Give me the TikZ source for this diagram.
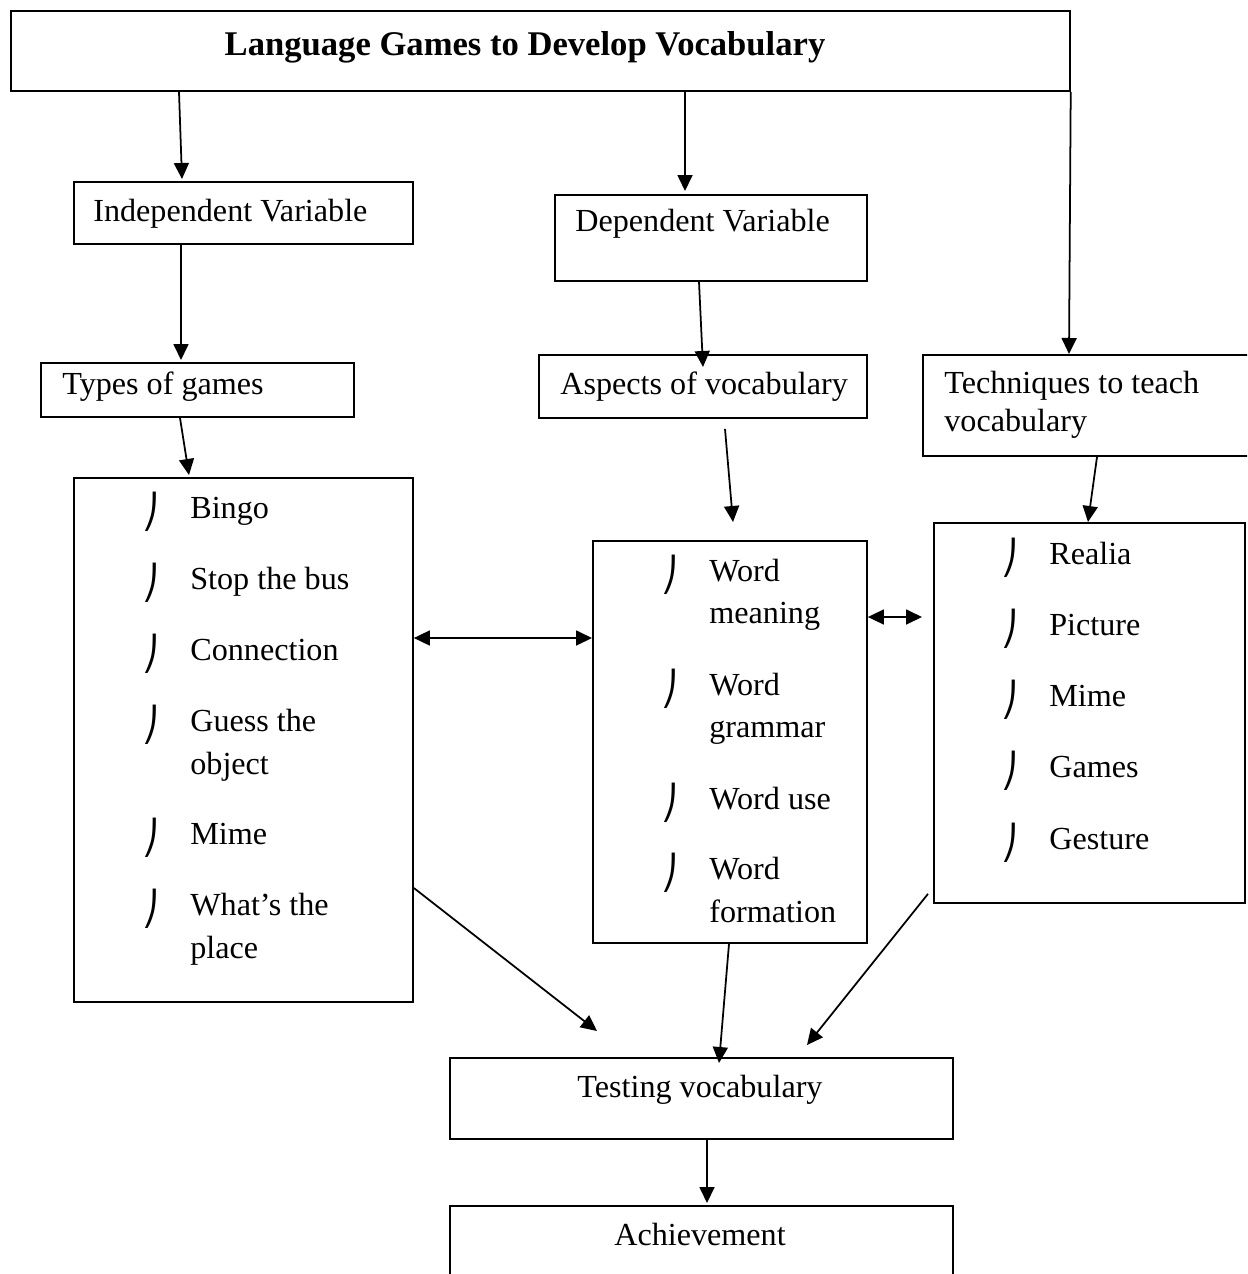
\documentclass[tikz,border=0pt]{standalone}
\usepackage{fontspec}
\setmainfont{Liberation Serif}
\newfontfamily\bulletfont{DejaVu Sans}
\usetikzlibrary{arrows.meta}

\tikzset{
  box/.style={draw, line width=1.1pt, anchor=north west, inner sep=0pt},
  lbl/.style={anchor=base west, inner sep=0pt, font=\fontsize{18.3}{24.4}\selectfont},
  bul/.style={anchor=base west, inner sep=0pt, font=\bulletfont\fontsize{19}{19}\selectfont},
  arr/.style={line width=1pt, -{Triangle[length=0.32cm, width=0.3cm]}},
  darr/.style={line width=1pt, {Triangle[length=0.32cm, width=0.3cm]}-{Triangle[length=0.32cm, width=0.3cm]}},
}

\begin{document}
\begin{tikzpicture}[x=0.02cm, y=-0.02cm]
  \useasboundingbox (0,0) rectangle (1247,1274);
  \clip (0,0) rectangle (1247,1274);

  % title
  \node[box, minimum width=21.18cm, minimum height=1.6cm] (title) at (10,10) {};
  \node[anchor=base, inner sep=0pt, font=\bfseries\fontsize{19.7}{24}\selectfont] (titletext) at (525,56) {Language Games to Develop Vocabulary};

  % variables
  \node[box, minimum width=6.78cm, minimum height=1.24cm] (indep) at (73,181) {};
  \node[lbl] (indeptext) at (93,221) {Independent Variable};
  \node[box, minimum width=6.24cm, minimum height=1.72cm] (dep) at (554,194) {};
  \node[lbl] (deptext) at (575,231) {Dependent Variable};

  % second row
  \node[box, minimum width=6.26cm, minimum height=1.08cm] (types) at (40,362) {};
  \node[lbl] (typestext) at (62,394) {Types of games};
  \node[box, minimum width=6.56cm, minimum height=1.26cm] (aspects) at (538,354) {};
  \node[lbl] (aspectstext) at (560,394) {Aspects of vocabulary};
  \node[box, minimum width=6.8cm, minimum height=2.02cm] (tech) at (922,354) {};
  \node[lbl] (techtext) at (944,393) {Techniques to teach};
  \node[lbl] (techtext2) at (944,431) {vocabulary};

  % lists
  \node[box, minimum width=6.78cm, minimum height=10.48cm] (games) at (73,477) {};
  \foreach \y in {518,589,660,731,844,915}
    \node[bul] (gb\y) at (142,\y+5) {⎠};
  \node[lbl] (g1) at (190,518) {Bingo};
  \node[lbl] (g2) at (190,589) {Stop the bus};
  \node[lbl] (g3) at (190,660) {Connection};
  \node[lbl] (g4) at (190,731) {Guess the};
  \node[lbl] (g4b) at (190,774) {object};
  \node[lbl] (g5) at (190,844) {Mime};
  \node[lbl] (g6) at (190,915) {What’s the};
  \node[lbl] (g6b) at (190,958) {place};

  \node[box, minimum width=5.48cm, minimum height=8.04cm] (asplist) at (592,540) {};
  \foreach \y in {581,695,809,879}
    \node[bul] (ab\y) at (661,\y+5) {⎠};
  \node[lbl] (a1) at (709,581) {Word};
  \node[lbl] (a1b) at (709,623) {meaning};
  \node[lbl] (a2) at (709,695) {Word};
  \node[lbl] (a2b) at (709,737) {grammar};
  \node[lbl] (a3) at (709,809) {Word use};
  \node[lbl] (a4) at (709,879) {Word};
  \node[lbl] (a4b) at (709,922) {formation};

  \node[box, minimum width=6.22cm, minimum height=7.6cm] (techlist) at (933,522) {};
  \foreach \y in {564,635,706,777,849}
    \node[bul] (tb\y) at (1001,\y+5) {⎠};
  \node[lbl] (t1) at (1049,564) {Realia};
  \node[lbl] (t2) at (1049,635) {Picture};
  \node[lbl] (t3) at (1049,706) {Mime};
  \node[lbl] (t4) at (1049,777) {Games};
  \node[lbl] (t5) at (1049,849) {Gesture};

  % bottom
  \node[box, minimum width=10.06cm, minimum height=1.62cm] (testing) at (449,1057) {};
  \node[lbl, anchor=base] (testingtext) at (700,1097) {Testing vocabulary};
  \node[box, minimum width=10.06cm, minimum height=2cm] (achieve) at (449,1205) {};
  \node[lbl, anchor=base] (achievetext) at (700,1245) {Achievement};

  % arrows
  \draw[arr] ([shift={(169,0)}]title.south west) -- ([shift={(109,-2)}]indep.north west);
  \draw[arr] ([shift={(675,0)}]title.south west) -- ([shift={(131,-3)}]dep.north west);
  \draw[arr] (title.south east) -- ([shift={(147,0)}]tech.north west);
  \draw[arr] ([shift={(108,0)}]indep.south west) -- ([shift={(141,-2)}]types.north west);
  \draw[arr] ([shift={(145,0)}]dep.south west) -- ([shift={(165,13)}]aspects.north west);
  \draw[arr] ([shift={(140,0)}]types.south west) -- ([shift={(116,-2)}]games.north west);
  \draw[arr] ([shift={(187,10)}]aspects.south west) -- ([shift={(141,-18)}]asplist.north west);
  \draw[arr] ([shift={(175,0)}]tech.south west) -- ([shift={(155,0)}]techlist.north west);
  \draw[darr] ([shift={(0,161)}]games.north east) -- ([shift={(0,98)}]asplist.north west);
  \draw[darr] ([shift={(0,77)}]asplist.north east) -- ([shift={(-11,95)}]techlist.north west);
  \draw[arr] ([shift={(0,411)}]games.north east) -- ([shift={(148,-26)}]testing.north west);
  \draw[arr] ([shift={(137,0)}]asplist.south west) -- ([shift={(270,6)}]testing.north west);
  \draw[arr] ([shift={(-5,-10)}]techlist.south west) -- ([shift={(358,-12)}]testing.north west);
  \draw[arr] ([shift={(258,0)}]testing.south west) -- ([shift={(258,-2)}]achieve.north west);
\end{tikzpicture}
\end{document}
